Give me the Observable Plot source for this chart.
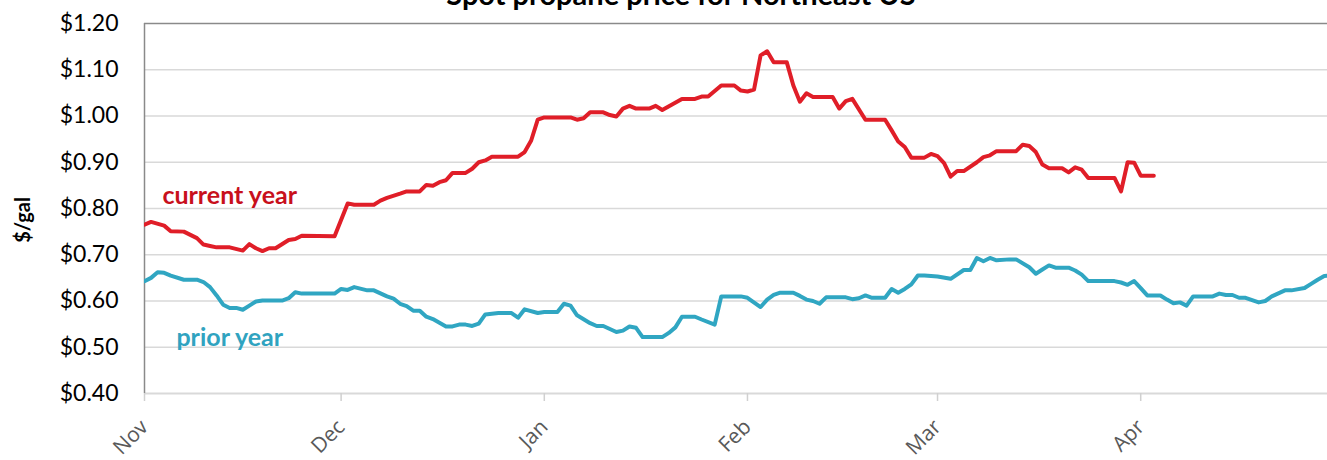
<!DOCTYPE html>
<html><head><meta charset="utf-8">
<script src="https://cdn.jsdelivr.net/npm/d3@7"></script>
<script src="https://cdn.jsdelivr.net/npm/@observablehq/plot@0.6"></script>
<style>
body{margin:0;background:#fff;overflow:hidden;}
#wrap{position:relative;width:1327px;height:460px;overflow:hidden;}
#chart{position:absolute;left:0;top:0;}
#title{position:absolute;left:681px;top:-21px;transform:translateX(-50%);font:bold 29px Lato;line-height:29px;white-space:nowrap;color:#000;}
#ylab{position:absolute;left:22px;top:220px;transform:translate(-50%,-50%) rotate(-90deg);font:bold 20px Lato;white-space:nowrap;color:#000;}
</style></head><body>
<div id="wrap"><div id="chart"></div><div id="title">Spot propane price for Northeast US</div><div id="ylab">$/gal</div></div>
<script>
const currentDates = ["2023-11-01","2023-11-02","2023-11-04","2023-11-05","2023-11-07","2023-11-09","2023-11-10","2023-11-11","2023-11-12","2023-11-14","2023-11-16","2023-11-17","2023-11-18","2023-11-19","2023-11-20","2023-11-21","2023-11-23","2023-11-24","2023-11-25","2023-11-30",
"2023-12-02","2023-12-03","2023-12-06","2023-12-07","2023-12-08","2023-12-10","2023-12-11","2023-12-13","2023-12-14","2023-12-15","2023-12-16","2023-12-17","2023-12-18","2023-12-20","2023-12-21","2023-12-22","2023-12-23","2023-12-24","2023-12-28","2023-12-29","2023-12-30","2023-12-31",
"2024-01-01","2024-01-05","2024-01-06","2024-01-07","2024-01-08","2024-01-10","2024-01-11","2024-01-12","2024-01-13","2024-01-14","2024-01-15","2024-01-17","2024-01-18","2024-01-19","2024-01-22","2024-01-24","2024-01-25","2024-01-26","2024-01-28","2024-01-30","2024-01-31",
"2024-02-01","2024-02-02","2024-02-03","2024-02-04","2024-02-05","2024-02-07","2024-02-08","2024-02-09","2024-02-10","2024-02-11","2024-02-14","2024-02-15","2024-02-16","2024-02-17","2024-02-19","2024-02-22","2024-02-23","2024-02-24","2024-02-25","2024-02-26","2024-02-28","2024-02-29",
"2024-03-01","2024-03-02","2024-03-03","2024-03-04","2024-03-05","2024-03-07","2024-03-08","2024-03-09","2024-03-10","2024-03-13","2024-03-14","2024-03-15","2024-03-16","2024-03-17","2024-03-18","2024-03-20","2024-03-21","2024-03-22","2024-03-23","2024-03-24","2024-03-28","2024-03-29","2024-03-30","2024-03-31",
"2024-04-01","2024-04-03"];
const currentValues = [0.765,0.771,0.763,0.751,0.750,0.736,0.722,0.719,0.716,0.716,0.709,0.723,0.714,0.708,0.714,0.714,0.732,0.734,0.741,0.740,
0.811,0.808,0.808,0.817,0.823,0.832,0.837,0.837,0.851,0.849,0.857,0.861,0.877,0.877,0.886,0.900,0.904,0.912,0.912,0.922,0.947,0.992,
0.997,0.997,0.992,0.995,1.008,1.008,1.002,0.999,1.016,1.022,1.016,1.016,1.022,1.013,1.037,1.037,1.042,1.042,1.066,1.066,1.055,
1.053,1.057,1.131,1.140,1.116,1.116,1.066,1.031,1.049,1.041,1.041,1.016,1.032,1.037,0.992,0.992,0.969,0.945,0.933,0.910,0.910,0.918,
0.913,0.898,0.869,0.881,0.881,0.900,0.911,0.915,0.924,0.924,0.938,0.935,0.922,0.895,0.887,0.887,0.878,0.889,0.884,0.866,0.866,0.837,0.900,0.899,
0.871,0.871];

const priorDates = ["2023-11-01","2023-11-02","2023-11-03","2023-11-04","2023-11-05","2023-11-07","2023-11-09","2023-11-10","2023-11-11","2023-11-12","2023-11-13","2023-11-14","2023-11-15","2023-11-16","2023-11-17","2023-11-18","2023-11-19","2023-11-22","2023-11-23","2023-11-24","2023-11-25","2023-11-30",
"2023-12-01","2023-12-02","2023-12-03","2023-12-05","2023-12-06","2023-12-08","2023-12-09","2023-12-10","2023-12-11","2023-12-12","2023-12-13","2023-12-14","2023-12-15","2023-12-17","2023-12-18","2023-12-19","2023-12-20","2023-12-21","2023-12-22","2023-12-23","2023-12-25","2023-12-27","2023-12-28","2023-12-29","2023-12-31",
"2024-01-01","2024-01-03","2024-01-04","2024-01-05","2024-01-06","2024-01-08","2024-01-09","2024-01-10","2024-01-12","2024-01-13","2024-01-14","2024-01-15","2024-01-16","2024-01-19","2024-01-20","2024-01-21","2024-01-22","2024-01-24","2024-01-25","2024-01-27","2024-01-28","2024-01-31",
"2024-02-01","2024-02-03","2024-02-04","2024-02-05","2024-02-06","2024-02-08","2024-02-09","2024-02-10","2024-02-11","2024-02-12","2024-02-13","2024-02-16","2024-02-17","2024-02-18","2024-02-19","2024-02-20","2024-02-22","2024-02-23","2024-02-24","2024-02-25","2024-02-26","2024-02-27","2024-02-28",
"2024-03-01","2024-03-03","2024-03-05","2024-03-06","2024-03-07","2024-03-08","2024-03-09","2024-03-10","2024-03-12","2024-03-13","2024-03-15","2024-03-16","2024-03-17","2024-03-18","2024-03-19","2024-03-21","2024-03-22","2024-03-23","2024-03-24","2024-03-28","2024-03-29","2024-03-30","2024-03-31",
"2024-04-01","2024-04-02","2024-04-04","2024-04-05","2024-04-06","2024-04-07","2024-04-08","2024-04-09","2024-04-12","2024-04-13","2024-04-14","2024-04-15","2024-04-16","2024-04-17","2024-04-19","2024-04-20","2024-04-21","2024-04-23","2024-04-24","2024-04-26","2024-04-27","2024-04-28","2024-04-29","2024-04-30"];
const priorValues = [0.643,0.650,0.662,0.661,0.655,0.646,0.646,0.641,0.630,0.612,0.592,0.585,0.585,0.581,0.590,0.599,0.601,0.601,0.606,0.619,0.616,0.616,
0.626,0.624,0.630,0.623,0.623,0.610,0.605,0.594,0.589,0.579,0.579,0.566,0.561,0.545,0.545,0.549,0.549,0.546,0.551,0.571,0.574,0.574,0.564,0.582,0.574,
0.576,0.576,0.594,0.590,0.569,0.552,0.546,0.546,0.533,0.536,0.545,0.542,0.522,0.522,0.531,0.543,0.566,0.566,0.560,0.549,0.610,0.610,
0.607,0.587,0.603,0.613,0.618,0.618,0.611,0.603,0.600,0.594,0.608,0.608,0.604,0.606,0.612,0.607,0.607,0.626,0.618,0.626,0.636,0.655,0.655,
0.653,0.648,0.667,0.667,0.693,0.686,0.693,0.688,0.690,0.690,0.673,0.659,0.668,0.677,0.672,0.672,0.666,0.657,0.643,0.643,0.640,0.635,0.643,
0.628,0.612,0.612,0.603,0.595,0.597,0.590,0.610,0.610,0.616,0.613,0.613,0.607,0.607,0.597,0.600,0.610,0.623,0.623,0.628,0.637,0.646,0.654,0.655];

const monthTicks = ["2023-11-01","2023-12-01","2024-01-01","2024-02-01","2024-03-01","2024-04-01"];
const yTicks = [0.4,0.5,0.6,0.7,0.8,0.9,1.0,1.1,1.2];
const seriesNames = ["current year","prior year"];
const labelDates = ["2023-11-14","2023-11-14"];
const labelValues = [0.828,0.521];

const parse = d3.utcParse("%Y-%m-%d");
const current = currentDates.map((d,i)=>({date:parse(d), value:currentValues[i]}));
const prior = priorDates.map((d,i)=>({date:parse(d), value:priorValues[i]}));
const labels = seriesNames.map((s,i)=>({name:s, date:parse(labelDates[i]), value:labelValues[i]}));
const xDomain = [parse("2023-11-01"), new Date(Date.UTC(2024,3,29,12))];

const chart = Plot.plot({
  width:1327, height:460,
  marginLeft:144, marginRight:0, marginTop:23, marginBottom:67,
  x:{type:"utc", domain:xDomain},
  y:{domain:[0.4,1.2]},
  style:{fontFamily:"Lato", background:"white", overflow:"visible"},
  marks:[
    Plot.gridY(yTicks.slice(1,-1), {stroke:"#d9d9d9", strokeOpacity:1, strokeWidth:1.5}),
    Plot.ruleY([0.4], {stroke:"#d9d9d9", strokeWidth:2}),
    Plot.ruleY([1.2], {stroke:"#8a8a8a", strokeWidth:1.5}),
    Plot.ruleX([xDomain[0]], {stroke:"#8a8a8a", strokeWidth:1.5}),
    Plot.axisY(yTicks, {tickFormat:d=>"$"+d.toFixed(2), tickSize:0, tickPadding:26, fontSize:23, fill:"#000", label:null}),
    Plot.axisX(monthTicks.map(parse), {tickFormat:d3.utcFormat("%b"), tickRotate:-45, tickSize:8, stroke:"#d0d0d0", strokeWidth:1.5, fill:"#595959", fontSize:21, fontFamily:"Open Sans", tickPadding:22, label:null}),
    Plot.line(prior, {x:"date", y:"value", stroke:"#30a6c2", strokeWidth:4, strokeLinejoin:"round", clip:true}),
    Plot.line(current, {x:"date", y:"value", stroke:"#e01e28", strokeWidth:4, strokeLinejoin:"round", clip:true}),
    Plot.text(labels.filter(d=>d.name==="current year"), {x:"date", y:"value", text:"name", fill:"#c8101c", fontWeight:"bold", fontSize:25}),
    Plot.text(labels.filter(d=>d.name==="prior year"), {x:"date", y:"value", text:"name", fill:"#30a3c0", fontWeight:"bold", fontSize:25})
  ]
});
document.getElementById("chart").appendChild(chart);
</script>
</body></html>
